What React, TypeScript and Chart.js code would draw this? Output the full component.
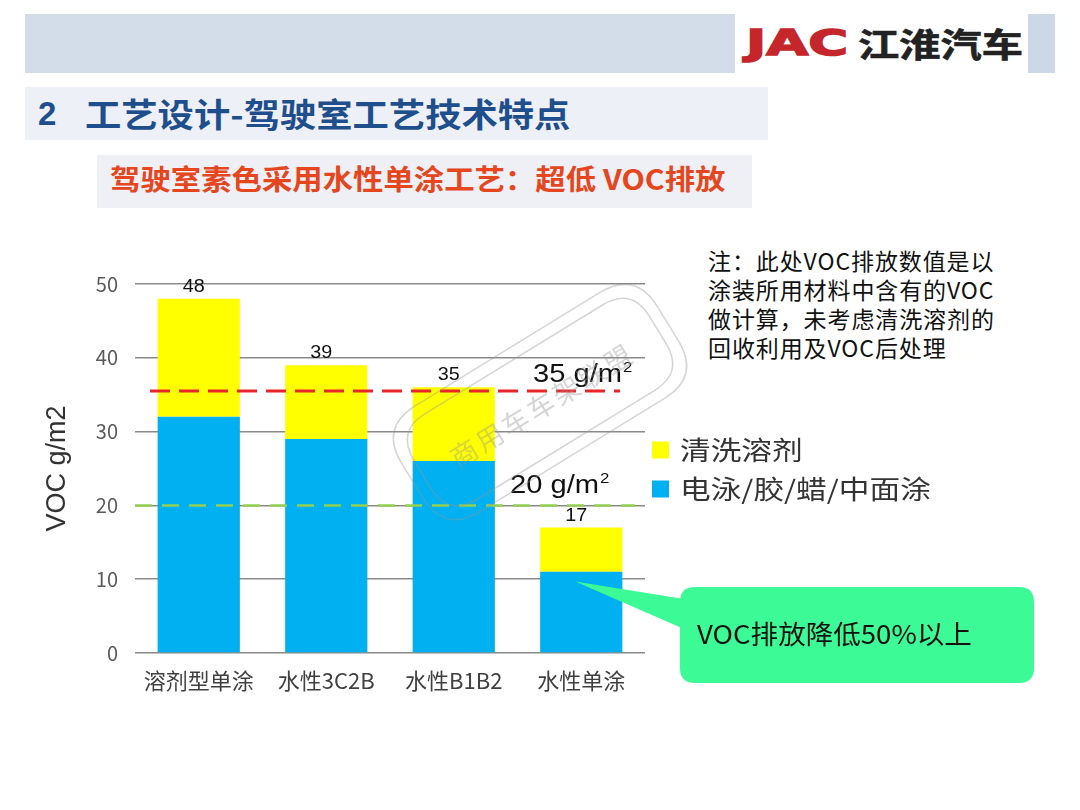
import React, { useEffect, useRef } from 'react';
import { Chart, registerables } from 'chart.js';

Chart.register(...registerables);

// ---------- data ----------
const categories = ['溶剂型单涂', '水性3C2B', '水性B1B2', '水性单涂'];
const baseCoatValues = [32, 29, 26, 11];
const cleaningSolventValues = [16, 10, 10, 6];
const totalLabels = ['48', '39', '35', '17'];
const seriesNames = ['电泳/胶/蜡/中面涂', '清洗溶剂'];
const yTickValues = [0, 10, 20, 30, 40, 50];
const redLimitValue = 35.5;
const greenLimitValue = 20;
const limitLabels = ['35 g/m', '20 g/m'];
const calloutTipValue = 9.7;
const calloutText = 'VOC排放降低50%以上';
const noteLines = ['注：此处VOC排放数值是以', '涂装所用材料中含有的VOC', '做计算，未考虑清洗溶剂的', '回收利用及VOC后处理'];
const watermarkText = '商用车车架联盟';

const CJK = '"Noto Sans CJK SC", "Liberation Sans", sans-serif';
const LAT = '"Liberation Sans", "Noto Sans CJK SC", sans-serif';

function stretchText(ctx: CanvasRenderingContext2D, text: string, x: number, y: number, sx: number, align: CanvasTextAlign = 'left') {
  ctx.save();
  ctx.translate(x, y);
  ctx.scale(sx, 1);
  ctx.textAlign = align;
  ctx.fillText(text, 0, 0);
  ctx.restore();
}

function roundRectPath(ctx: CanvasRenderingContext2D, x: number, y: number, w: number, h: number, r: number) {
  ctx.beginPath();
  ctx.moveTo(x + r, y);
  ctx.lineTo(x + w - r, y);
  ctx.quadraticCurveTo(x + w, y, x + w, y + r);
  ctx.lineTo(x + w, y + h - r);
  ctx.quadraticCurveTo(x + w, y + h, x + w - r, y + h);
  ctx.lineTo(x + r, y + h);
  ctx.quadraticCurveTo(x, y + h, x, y + h - r);
  ctx.lineTo(x, y + r);
  ctx.quadraticCurveTo(x, y, x + r, y);
  ctx.closePath();
}

const overlayPlugin = {
  id: 'overlay',
  afterDatasetsDraw(chart: any) {
    const ctx: CanvasRenderingContext2D = chart.ctx;
    const area = chart.chartArea;
    const xs = chart.scales.x;
    const ys = chart.scales.y;

    // dashed limit lines
    ctx.save();
    ctx.setLineDash([20, 9]);
    ctx.lineWidth = 3;
    ctx.strokeStyle = '#E8262A';
    const ry = ys.getPixelForValue(redLimitValue);
    ctx.beginPath();
    ctx.moveTo(area.left + 15, ry);
    ctx.lineTo(area.right - 25, ry);
    ctx.stroke();
    ctx.setLineDash([17, 10]);
    ctx.lineWidth = 2.5;
    ctx.strokeStyle = '#92D050';
    const gy = ys.getPixelForValue(greenLimitValue);
    ctx.beginPath();
    ctx.moveTo(area.left, gy);
    ctx.lineTo(area.right - 10, gy);
    ctx.stroke();
    ctx.restore();

    // limit labels
    ctx.save();
    ctx.fillStyle = '#111';
    ctx.textBaseline = 'alphabetic';
    const drawLimit = (txt: string, x: number, y: number) => {
      ctx.font = `26px ${LAT}`;
      const sx = 1.12;
      stretchText(ctx, txt, x, y, sx);
      const w = ctx.measureText(txt).width * sx;
      ctx.font = `15px ${LAT}`;
      stretchText(ctx, '2', x + w + 1, y - 10, sx);
    };
    drawLimit(limitLabels[0], area.right - 112, ry - 9);
    drawLimit(limitLabels[1], area.right - 135, gy - 12);
    ctx.restore();

    // total labels
    const topMeta = chart.getDatasetMeta(1);
    ctx.save();
    ctx.fillStyle = '#111';
    ctx.font = `18px ${LAT}`;
    ctx.textBaseline = 'alphabetic';
    topMeta.data.forEach((bar: any, i: number) => {
      stretchText(ctx, totalLabels[i], bar.x - 5, bar.y - 7, 1.1, 'center');
    });
    ctx.restore();

    // legend (reverse order: top series first)
    ctx.save();
    const midY = (area.top + area.bottom) / 2;
    const order = [1, 0];
    order.forEach((di, k) => {
      const ds = chart.data.datasets[di];
      const cy = midY - 19 + k * 39;
      ctx.fillStyle = ds.backgroundColor;
      ctx.fillRect(area.right + 7, cy - 8, 17, 17);
      ctx.fillStyle = '#333';
      ctx.font = `26px ${CJK}`;
      ctx.textBaseline = 'middle';
      stretchText(ctx, ds.label, area.right + 35, cy + 1, 1.18);
    });
    ctx.restore();

    // callout
    const tipX = xs.getPixelForValue(3) - 6;
    const tipY = ys.getPixelForValue(calloutTipValue);
    const bx = 680, by = 587, bw = 354, bh = 96, r = 15;
    ctx.save();
    ctx.fillStyle = '#3CFB96';
    ctx.beginPath();
    ctx.moveTo(tipX, tipY);
    ctx.lineTo(bx + 4, by + 12);
    ctx.lineTo(bx + 4, by + 42);
    ctx.closePath();
    ctx.fill();
    roundRectPath(ctx, bx, by, bw, bh, r);
    ctx.fill();
    ctx.fillStyle = '#111';
    ctx.font = `26px ${CJK}`;
    ctx.textBaseline = 'middle';
    stretchText(ctx, calloutText, bx + 17, by + 47, 1.06);
    ctx.restore();

    // watermark
    ctx.save();
    ctx.translate(540, 402);
    ctx.rotate(-0.55);
    ctx.strokeStyle = 'rgba(150,150,150,0.4)';
    ctx.lineWidth = 1.5;
    roundRectPath(ctx, -150, -62, 300, 124, 42);
    ctx.stroke();
    roundRectPath(ctx, -138, -50, 276, 100, 34);
    ctx.stroke();
    ctx.fillStyle = 'rgba(150,150,150,0.4)';
    ctx.font = `27px ${CJK}`;
    ctx.textAlign = 'center';
    ctx.textBaseline = 'middle';
    (ctx as any).letterSpacing = '3px';
    ctx.fillText(watermarkText, 0, 4);
    ctx.restore();
  },
};

export default function App() {
  const canvasRef = useRef<HTMLCanvasElement | null>(null);

  useEffect(() => {
    if (!canvasRef.current) return;
    const chart = new Chart(canvasRef.current, {
      type: 'bar',
      data: {
        labels: categories,
        datasets: [
          {
            label: seriesNames[0],
            data: baseCoatValues,
            backgroundColor: '#00B0F0',
            barPercentage: 0.645,
            categoryPercentage: 1,
          },
          {
            label: seriesNames[1],
            data: cleaningSolventValues,
            backgroundColor: '#FFFF00',
            barPercentage: 0.645,
            categoryPercentage: 1,
          },
        ],
      },
      options: {
        responsive: false,
        animation: false,
        devicePixelRatio: 1,
        layout: { padding: { left: 38, top: 284, right: 435, bottom: 107 } },
        plugins: {
          legend: { display: false },
          tooltip: { enabled: false },
        },
        scales: {
          x: {
            stacked: true,
            grid: { display: false },
            border: { display: false },
            ticks: {
              color: '#404040',
              font: { size: 22, family: CJK },
              padding: 6,
              maxRotation: 0,
              autoSkip: false,
            },
            afterFit: (s: any) => {
              s.height = 50;
            },
          },
          y: {
            stacked: true,
            min: 0,
            max: 50,
            afterBuildTicks: (s: any) => {
              s.ticks = yTickValues.map((v) => ({ value: v }));
            },
            ticks: {
              color: '#595959',
              font: { size: 20, family: CJK },
              padding: 17,
            },
            grid: { color: '#8a8a8a', lineWidth: 1.5, drawTicks: false },
            border: { display: false },
            title: {
              display: true,
              text: 'VOC g/m2',
              color: '#333',
              font: { size: 27, family: LAT },
              padding: { top: 3, bottom: 0 },
            },
            afterFit: (s: any) => {
              s.width = 97;
            },
          },
        },
      },
      plugins: [overlayPlugin],
    });
    return () => chart.destroy();
  }, []);

  const abs = (s: React.CSSProperties): React.CSSProperties => ({ position: 'absolute', ...s });

  return (
    <div style={{ position: 'absolute', left: 0, top: 0, width: 1080, height: 810, background: '#fff', overflow: 'hidden' }}>
      {/* header */}
      <div style={abs({ left: 25, top: 14, width: 710, height: 59, background: '#D3DCE9' })} />
      <div style={abs({ left: 1028, top: 14, width: 27, height: 59, background: '#CDD8E7' })} />
      <div
        style={abs({
          left: 746,
          top: 14,
          height: 59,
          lineHeight: '59px',
          fontFamily: '"DejaVu Sans", sans-serif',
          fontWeight: 'bold',
          fontSize: 35,
          color: '#C4262B',
          WebkitTextStroke: '1.5px #C4262B',
          transform: 'scaleX(1.55)',
          transformOrigin: 'left center',
          whiteSpace: 'nowrap',
        })}
      >
        JAC
      </div>
      <div
        style={abs({
          left: 858,
          top: 14,
          height: 59,
          lineHeight: '59px',
          fontFamily: CJK,
          fontWeight: 'bold',
          fontSize: 33,
          color: '#222',
          WebkitTextStroke: '0.6px #222',
          transform: 'scaleX(1.25)',
          transformOrigin: 'left center',
          whiteSpace: 'nowrap',
        })}
      >
        江淮汽车
      </div>

      {/* title bar */}
      <div style={abs({ left: 25, top: 87, width: 743, height: 53, background: '#EDF0F6' })} />
      <div
        style={abs({
          left: 38,
          top: 87,
          height: 53,
          lineHeight: '53px',
          fontFamily: LAT,
          fontWeight: 'bold',
          fontSize: 33,
          color: '#1F4E8C',
        })}
      >
        2
      </div>
      <div
        style={abs({
          left: 85,
          top: 87,
          height: 53,
          lineHeight: '53px',
          fontFamily: CJK,
          fontWeight: 'bold',
          fontSize: 33,
          color: '#1F4E8C',
          transform: 'scaleX(1.1)',
          transformOrigin: 'left center',
          whiteSpace: 'nowrap',
        })}
      >
        工艺设计-驾驶室工艺技术特点
      </div>

      {/* subtitle */}
      <div style={abs({ left: 97, top: 155, width: 655, height: 53, background: '#EEF0F5' })} />
      <div
        style={abs({
          left: 110,
          top: 155,
          height: 47,
          lineHeight: '47px',
          fontFamily: CJK,
          fontWeight: 'bold',
          fontSize: 28,
          color: '#E5461E',
          transform: 'scaleX(1.085)',
          transformOrigin: 'left center',
          whiteSpace: 'nowrap',
        })}
      >
        驾驶室素色采用水性单涂工艺：超低 VOC排放
      </div>

      {/* note */}
      <div
        style={abs({
          left: 708,
          top: 246,
          lineHeight: '29px',
          fontFamily: CJK,
          fontSize: 23,
          color: '#111',
          letterSpacing: '0.9px',
          whiteSpace: 'nowrap',
        })}
      >
        {noteLines.map((l, i) => (
          <div key={i}>{l}</div>
        ))}
      </div>

      <canvas ref={canvasRef} width={1080} height={810} style={abs({ left: 0, top: 0, width: 1080, height: 810 })} />
    </div>
  );
}
